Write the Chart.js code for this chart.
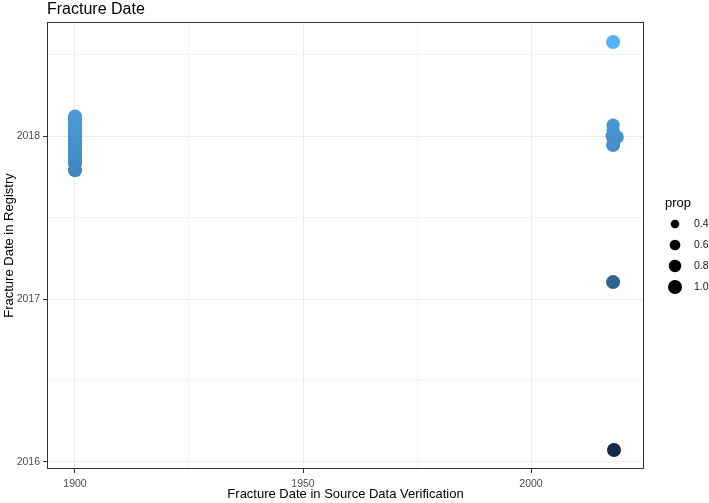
<!DOCTYPE html>
<html>
<head>
<meta charset="utf-8">
<style>
  html, body { margin: 0; padding: 0; background: #fff; }
  #wrap { width: 709px; height: 503px; }
</style>
<script src="https://cdn.jsdelivr.net/npm/chart.js@4/dist/chart.umd.min.js"></script>
</head>
<body>
<div id="wrap"><canvas id="chart" width="709" height="503"></canvas></div>
<script>
// Points at the 1900 placeholder date (source) vs registry date
const leftX = [1900, 1900, 1900, 1900, 1900, 1900, 1900, 1900, 1900, 1900,
               1900, 1900, 1900, 1900, 1900, 1900, 1900, 1900, 1900, 1900];
const leftY = [2017.79, 2017.83, 2017.85, 2017.87, 2017.88, 2017.90, 2017.92, 2017.93, 2017.95, 2017.96,
               2017.98, 2018.00, 2018.01, 2018.03, 2018.04, 2018.06, 2018.07, 2018.09, 2018.10, 2018.12];
const leftProp = [1, 1, 1, 1, 1, 1, 1, 1, 1, 1, 1, 1, 1, 1, 1, 1, 1, 1, 1, 1];

// Points with a real source date
const rightX = [2018.0, 2018.0, 2018.0, 2017.8, 2018.9, 2018.2, 2018.0, 2018.0, 2018.2];
const rightY = [2018.577, 2018.067, 2018.037, 2018.0, 2017.994, 2017.97, 2017.945, 2017.104, 2016.074];
const rightProp = [1, 0.9, 0.9, 0.9, 0.9, 0.9, 1, 1, 1];

const xTicks = [1900, 1950, 2000];
const xMinor = [1925, 1975];
const yTicks = [2016, 2017, 2018];
const yMinor = [2016.5, 2017.5, 2018.5];
const legendProps = [0.4, 0.6, 0.8, 1.0];
const legendLabels = ['0.4', '0.6', '0.8', '1.0'];

const FONT = '"Liberation Sans", Arial, sans-serif';
const LOW = [0x13, 0x2b, 0x43], HIGH = [0x56, 0xb1, 0xf7];
const allY = leftY.concat(rightY);
const yLo = Math.min(...allY), yHi = Math.max(...allY);

function colourFor(v) {
  const t = Math.max(0, Math.min(1, (v - yLo) / (yHi - yLo)));
  const c = LOW.map((l, i) => Math.round(l + (HIGH[i] - l) * t));
  return `rgb(${c[0]},${c[1]},${c[2]})`;
}
function radiusFor(p) {
  // area scale: r(0.4)=4.4, r(1.0)=7
  return Math.sqrt(Math.max(1, -1.4 + 50.4 * p));
}

const points = [];
leftX.forEach((x, i) => points.push({ x, y: leftY[i], prop: leftProp[i] }));
rightX.forEach((x, i) => points.push({ x, y: rightY[i], prop: rightProp[i] }));

const isMajor = (list, v) => list.some((t) => Math.abs(t - v) < 1e-6);

const frame = {
  id: 'frame',
  afterDraw(chart) {
    const { ctx, chartArea: a } = chart;
    ctx.save();
    ctx.strokeStyle = '#333333';
    ctx.lineWidth = 1;
    ctx.strokeRect(a.left + 0.5, a.top + 0.5, a.right - a.left - 1, a.bottom - a.top - 1);

    // title
    ctx.fillStyle = '#000';
    ctx.font = `16px ${FONT}`;
    ctx.textAlign = 'left';
    ctx.textBaseline = 'alphabetic';
    ctx.fillText('Fracture Date', a.left, 14);

    // axis titles
    ctx.font = `13px ${FONT}`;
    ctx.textAlign = 'center';
    ctx.textBaseline = 'middle';
    ctx.fillText('Fracture Date in Source Data Verification', (a.left + a.right) / 2, 494);
    ctx.save();
    ctx.translate(9, (a.top + a.bottom) / 2);
    ctx.rotate(-Math.PI / 2);
    ctx.fillText('Fracture Date in Registry', 0, 0);
    ctx.restore();

    // size legend
    ctx.textAlign = 'left';
    ctx.fillText('prop', 665, 203);
    const ys = [224, 245, 266, 287];
    ctx.font = `10.5px ${FONT}`;
    legendProps.forEach((p, i) => {
      ctx.fillStyle = '#000';
      ctx.beginPath();
      ctx.arc(675, ys[i], radiusFor(p), 0, Math.PI * 2);
      ctx.fill();
      ctx.fillStyle = '#1a1a1a';
      ctx.fillText(legendLabels[i], 694, ys[i] + 0.5);
    });
    ctx.restore();
  },
};

new Chart(document.getElementById('chart').getContext('2d'), {
  type: 'scatter',
  data: {
    datasets: [{
      data: points,
      pointRadius: (c) => radiusFor(c.raw ? c.raw.prop : 1),
      pointHoverRadius: (c) => radiusFor(c.raw ? c.raw.prop : 1),
      pointBackgroundColor: (c) => colourFor(c.raw ? c.raw.y : yHi),
      pointBorderWidth: 0,
      pointBorderColor: 'rgba(0,0,0,0)',
    }],
  },
  options: {
    responsive: false,
    animation: false,
    devicePixelRatio: 1,
    events: [],
    layout: { padding: { left: 0, right: 65, top: 22, bottom: 0 } },
    plugins: { legend: { display: false }, tooltip: { enabled: false } },
    scales: {
      x: {
        type: 'linear',
        min: 1893.86,
        max: 2024.78,
        afterFit: (s) => { s.height = 34; },
        afterBuildTicks: (s) => {
          s.ticks = xTicks.concat(xMinor).sort((a, b) => a - b).map((v) => ({ value: v }));
        },
        border: { display: false },
        grid: {
          color: (c) => (c.tick && isMajor(xTicks, c.tick.value) ? '#ebebeb' : '#f3f3f3'),
          tickColor: (c) => (c.tick && isMajor(xTicks, c.tick.value) ? '#333333' : 'rgba(0,0,0,0)'),
          tickLength: 4,
          lineWidth: 1,
        },
        ticks: {
          autoSkip: false,
          maxRotation: 0,
          padding: 5,
          color: '#4d4d4d',
          font: { family: FONT, size: 10.5 },
          callback: (v) => (isMajor(xTicks, v) ? String(v) : ''),
        },
      },
      y: {
        type: 'linear',
        min: 2015.957,
        max: 2018.70,
        afterFit: (s) => { s.width = 47; },
        afterBuildTicks: (s) => {
          s.ticks = yTicks.concat(yMinor).sort((a, b) => a - b).map((v) => ({ value: v }));
        },
        border: { display: false },
        grid: {
          color: (c) => (c.tick && isMajor(yTicks, c.tick.value) ? '#ebebeb' : '#f3f3f3'),
          tickColor: (c) => (c.tick && isMajor(yTicks, c.tick.value) ? '#333333' : 'rgba(0,0,0,0)'),
          tickLength: 4,
          lineWidth: 1,
        },
        ticks: {
          autoSkip: false,
          padding: 3,
          color: '#4d4d4d',
          font: { family: FONT, size: 10.5 },
          callback: (v) => (isMajor(yTicks, v) ? String(v) : ''),
        },
      },
    },
  },
  plugins: [frame],
});
</script>
</body>
</html>
